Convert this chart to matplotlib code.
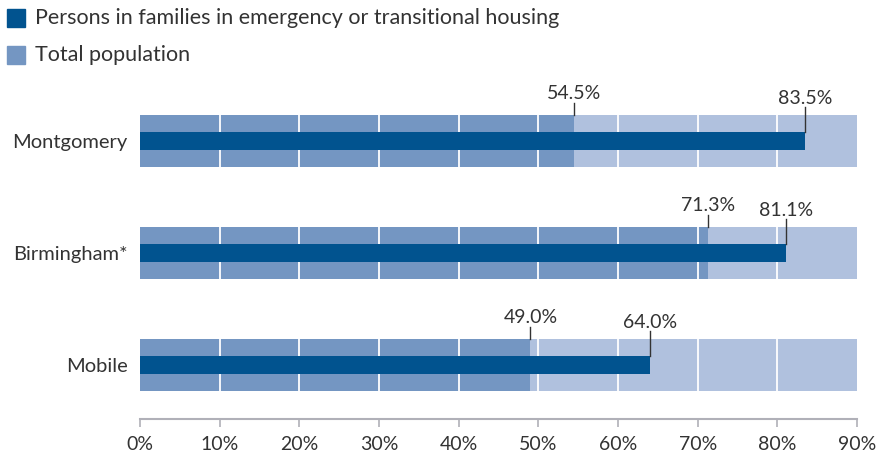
import matplotlib.pyplot as plt

cities = ['Montgomery', 'Birmingham*', 'Mobile']
total_pop = [54.5, 71.3, 49.0]
families = [83.5, 81.1, 64.0]
legend_labels = ['Persons in families in emergency or transitional housing', 'Total population']
xticks = [0, 10, 20, 30, 40, 50, 60, 70, 80, 90]

light = '#b0c1de'
mid = '#7496c2'
dark = '#01538f'
txt = '#333333'

plt.rcParams['font.family'] = ['Lato', 'DejaVu Sans']

fig = plt.figure(figsize=(8.76, 4.53), dpi=100)
# axes in pixel terms: x 140..857, y 80..419 (from top)
ax = fig.add_axes([140 / 876, 1 - 419 / 453, (857 - 140) / 876, (419 - 80) / 453])

px = 1 / 112.0  # one pixel in y data units
band_h = 52 * px
bar_h = 18 * px
ypos = [2, 1, 0]

for y, tot, fam in zip(ypos, total_pop, families):
    ax.barh(y, 90, height=band_h, color=light, zorder=1)
    ax.barh(y, tot, height=band_h, color=mid, zorder=2)
    ax.vlines(xticks[1:-1], y - band_h / 2, y + band_h / 2, color='white', lw=1.3, zorder=3)
    ax.barh(y, fam, height=bar_h, color=dark, zorder=4)
    top = y + band_h / 2
    # total population label
    ax.plot([tot, tot], [top, top + 12 * px], color=txt, lw=1, zorder=5)
    ax.text(tot, top + 13 * px, f'{tot:.1f}%', ha='center', va='bottom', fontsize=14, color=txt)
    # families label
    ax.plot([fam, fam], [y + bar_h / 2, top + 8 * px], color=txt, lw=1, zorder=5)
    ax.text(fam, top + 8 * px, f'{fam:.1f}%', ha='center', va='bottom', fontsize=14, color=txt)

ax.set_xlim(0, 90)
ax.set_ylim(-54 * px, 285 * px)
ax.set_xticks(xticks)
ax.set_xticklabels([f'{t}%' for t in xticks], fontsize=14, color=txt)
ax.set_yticks(ypos)
ax.set_yticklabels(cities, fontsize=14.5, color=txt)
ax.tick_params(axis='y', length=0, pad=9)
ax.tick_params(axis='x', length=6, width=1.2, color='#b0b0b8', pad=6)
for s in ['top', 'right', 'left']:
    ax.spines[s].set_visible(False)
ax.spines['bottom'].set_color('#b0b0b8')
ax.spines['bottom'].set_linewidth(1.5)

# legend drawn manually at top-left
for i, (lab, col) in enumerate(zip(legend_labels, [dark, mid])):
    yc = 1 - (18 + 37 * i) / 453
    fig.patches.append(plt.Rectangle((7 / 876, yc - 9 / 453), 18 / 876, 18 / 453,
                                     transform=fig.transFigure, color=col))
    fig.text(35 / 876, yc, lab, va='center', ha='left', fontsize=15.5, color=txt)

fig.savefig('out.png', dpi=100)
